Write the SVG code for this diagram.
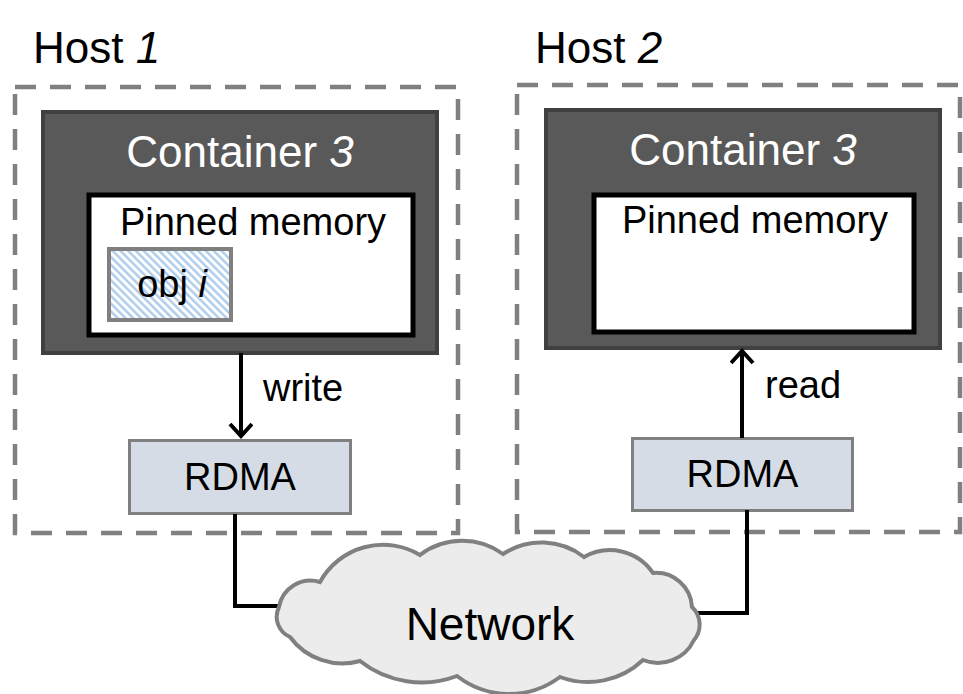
<svg xmlns="http://www.w3.org/2000/svg" width="963" height="694" viewBox="0 0 963 694">
<defs>
<style>
text{font-family:"Liberation Sans",Arial,sans-serif;fill:#000}
.host{fill:none;stroke:#808080;stroke-width:4.5;stroke-dasharray:21 14}
.cont{fill:#595959;stroke:#404040;stroke-width:4}
.pin{fill:#fff;stroke:#000;stroke-width:5}
.obj{fill:url(#hatch);stroke:#808080;stroke-width:4}
.rdma{fill:#d6dce5;stroke:#808080;stroke-width:3}
.wire{fill:none;stroke:#000;stroke-width:4}
.arrow{fill:none;stroke:#000;stroke-width:4;marker-end:url(#chev)}
.cloud{fill:#ececec;stroke:#808080;stroke-width:4}
.t44{font-size:44px}
.t38{font-size:38px}
.t46{font-size:46px}
.white{fill:#fff}
</style>
<pattern id="hatch" patternUnits="userSpaceOnUse" width="5.5" height="10" patternTransform="rotate(-45)">
<rect width="5.5" height="10" fill="#fff"/>
<rect width="2.5" height="10" fill="#b0cdeb"/>
</pattern>
<marker id="chev" markerUnits="userSpaceOnUse" markerWidth="30" markerHeight="30" refX="14" refY="12" orient="auto">
<path d="M2,1 L14,12 L2,23" fill="none" stroke="#000" stroke-width="4" stroke-linejoin="miter"/>
</marker>
</defs>

<g id="host1">
<rect class="host" x="15" y="87" width="443" height="446"/>
<text class="t44" x="33" y="63">Host <tspan font-style="italic">1</tspan></text>
</g>
<g id="host2">
<rect class="host" x="517" y="85" width="443" height="447"/>
<text class="t44" x="535" y="63">Host <tspan font-style="italic">2</tspan></text>
</g>

<g id="container1">
<rect class="cont" x="43" y="112" width="394" height="241"/>
<text class="t44 white" x="240" y="167" text-anchor="middle">Container <tspan font-style="italic">3</tspan></text>
</g>
<g id="pinned1">
<rect class="pin" x="89" y="195" width="324" height="140"/>
<text class="t38" x="253" y="235" text-anchor="middle">Pinned memory</text>
</g>
<g id="obj">
<rect class="obj" x="109" y="249" width="122" height="71"/>
<text class="t38" x="172" y="297" text-anchor="middle" font-size="40">obj <tspan font-style="italic">i</tspan></text>
</g>
<g id="rdma1">
<rect class="rdma" x="129.5" y="440.5" width="221" height="73"/>
<text class="t38" x="240" y="490" text-anchor="middle">RDMA</text>
</g>

<g id="container2">
<rect class="cont" x="546" y="110" width="394" height="238"/>
<text class="t44 white" x="743" y="165" text-anchor="middle">Container <tspan font-style="italic">3</tspan></text>
</g>
<g id="pinned2">
<rect class="pin" x="594" y="195" width="320" height="137"/>
<text class="t38" x="755" y="233" text-anchor="middle">Pinned memory</text>
</g>
<g id="rdma2">
<rect class="rdma" x="632.5" y="438.5" width="220" height="72"/>
<text class="t38" x="742.5" y="487" text-anchor="middle">RDMA</text>
</g>

<g id="connectors">
<path class="arrow" d="M241,353 L241,436"/>
<text class="t38" x="263" y="401">write</text>
<path class="arrow" d="M742,438 L742,351"/>
<text class="t38" x="765" y="398">read</text>
<path class="wire" d="M235,514 L235,606 L295,606"/>
<path class="wire" d="M747,510 L747,613 L680,613"/>
</g>

<g id="network">
<path class="cloud" d="M279,607 A32,32 0 0 1 320,582 A72,72 0 0 1 420,555 A70,70 0 0 1 503,554 A70,70 0 0 1 584,557 A52,52 0 0 1 653,573 A36,36 0 0 1 692,607 A24,24 0 0 1 694,640 A40,40 0 0 1 643,660 A80,80 0 0 1 560,677 A85,85 0 0 1 457,676 A100,100 0 0 1 360,661 A65,65 0 0 1 290,637 A22,22 0 0 1 279,607 Z"/>
<text class="t46" x="490" y="640" text-anchor="middle">Network</text>
</g>
</svg>
